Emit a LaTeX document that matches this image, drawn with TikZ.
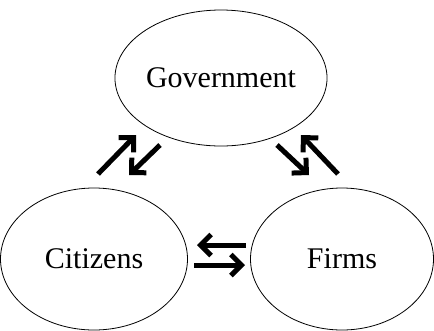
\documentclass[tikz,border=0pt]{standalone}
\usepackage{fontspec}
\setmainfont{Liberation Serif}
\usetikzlibrary{shapes,arrows.meta}
\begin{document}
\begin{tikzpicture}[x=1pt,y=-1pt]
   \useasboundingbox (0,0) rectangle (434,330);
   \tikzstyle{main}=[ellipse, draw=black, line width=0.8pt, inner sep=0pt, font=\fontsize{30}{36}\selectfont]
   \tikzstyle{flow}=[line width=5pt, -{Straight Barb[length=10.5pt,width=21pt]}]
   \node[main, minimum width=183pt, minimum height=136pt] (gov) at (221,78) {Government};
   \node[main, minimum width=187pt, minimum height=142pt] (cit) at (94,259) {Citizens};
   \node[main, minimum width=183pt, minimum height=142pt] (firm) at (342,259) {Firms};
   % free ends of the flows
   \foreach \n/\x/\y in {c1/98/174, g1/136/135, g2/160/145, c2/129/175,
                         g3/277/145, f1/309/175, f2/338/174, g4/301/135,
                         f3/246/245, c3/197/245, c4/194/265, f4/245/265}
      \coordinate (\n) at (\x,\y);
   \foreach \from/\to in {c1/g1, g2/c2, g3/f1, f2/g4, f3/c3, c4/f4}
      \draw[flow] (\from) -- (\to);
\end{tikzpicture}
\end{document}
